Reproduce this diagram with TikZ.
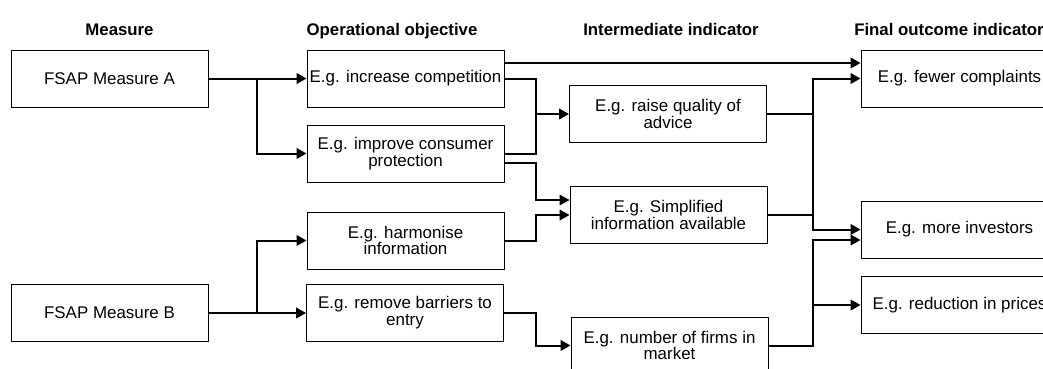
\documentclass[tikz,border=0pt]{standalone}
\usepackage{fontspec}
\setmainfont{Liberation Sans}
\usetikzlibrary{arrows.meta,calc}

\begin{document}
\begin{tikzpicture}[x=0.75pt,y=-0.75pt,
  box/.style={draw,line width=0.75pt,minimum width=147.75pt,minimum height=42.75pt,
    inner sep=0pt,align=center,font=\fontsize{12.7pt}{12.6pt}\selectfont},
  head/.style={anchor=base,font=\bfseries\fontsize{12.6pt}{12.6pt}\selectfont},
  conn/.style={line width=1.5pt},
  arr/.style={conn,-{Triangle[length=7.5pt,width=8pt]}},
  thinarr/.style={line width=0.9pt,-{Triangle[length=7.5pt,width=8pt]}}]

\useasboundingbox (0,0) rectangle (1043,368);
\fill[white] (0,0) rectangle (1043,368);
\clip (0,0) rectangle (1043,368);

% column headings
\node[head] (h1) at (119.5,35) {Measure};
\node[head] (h2) at (392,35) {Operational objective};
\node[head] (h3) at (671,35) {Intermediate indicator};
\node[head] (h4) at (949,35) {Final outcome indicator};

% measures
\node[box] (A) at (109.5,78.5) {FSAP Measure A};
\node[box] (B) at (109.5,313) {FSAP Measure B};

% operational objectives
\node[box] (O1) at (405.5,78.5) {E.g. increase competition};
\node[box] (O2) at (405.5,153.5) {E.g. improve consumer\\protection};
\node[box] (O3) at (405.5,240.5) {E.g. harmonise\\information};
\node[box] (O4) at (405,313) {E.g. remove barriers to\\entry};

% intermediate indicators
\node[box] (I1) at (668,114) {E.g. raise quality of\\advice};
\node[box] (I2) at (668.5,215) {E.g. Simplified\\information available};
\node[box] (I3) at (669.5,345.5) {E.g. number of firms in\\market};

% final outcome indicators
\node[box] (F1) at (959.5,78.5) {E.g. fewer complaints};
\node[box] (F2) at (959.5,229.5) {E.g. more investors};
\node[box] (F3) at (959.5,305) {E.g. reduction in prices};

% junction columns
\coordinate (jA) at (257,0);
\coordinate (jB) at (536,0);
\coordinate (jC) at (813,0);

% measure -> objectives
\draw[arr] (A.east) -- (O1.west);
\draw[arr] (jA |- A.east) |- (O2.west);
\draw[arr] (B.east) -- (O4.west);
\draw[arr] (jA |- B.east) |- (O3.west);

% objectives -> intermediate indicators
\draw[conn] (O1.east) -| (jB |- O2.east) -- (O2.east);
\draw[arr] (jB |- I1.west) -- (I1.west);
\draw[thinarr] ($(O2.east)+(0,9.5)$) -| ($(jB |- I2.west)+(0,-15)$) -- ($(I2.west)+(0,-15)$);
\draw[arr] (O3.east) -| (jB |- I2.west) -- (I2.west);
\draw[arr] (O4.east) -| (jB |- I3.west) -- (I3.west);

% direct link to final outcome
\draw[arr] ($(O1.east)+(0,-15.5)$) -- ($(F1.west)+(0,-15.5)$);

% intermediate indicators -> final outcomes
\draw[conn] (jC |- I1.east) -- (jC |- I2.east);
\draw[arr] (I1.east) -| (jC |- F1.west) -- (F1.west);
\draw[arr] (I2.east) -| (jC |- F2.west) -- (F2.west);
\draw[arr] (I3.east) -| ($(jC |- F2.west)+(0,10.5)$) -- ($(F2.west)+(0,10.5)$);
\draw[arr] (jC |- F3.west) -- (F3.west);
\end{tikzpicture}
\end{document}
